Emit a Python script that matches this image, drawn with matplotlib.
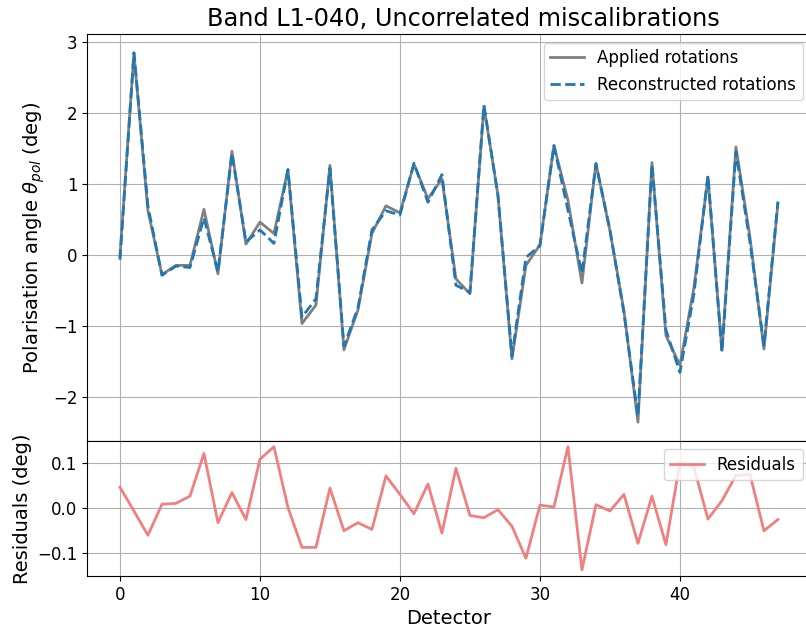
import matplotlib.pyplot as plt
import numpy as np

detectors = np.arange(48)

applied = [-0.02, 2.84, 0.62, -0.28, -0.15, -0.15, 0.64, -0.27, 1.46, 0.15,
           0.46, 0.30, 1.20, -0.97, -0.71, 1.26, -1.34, -0.78, 0.30, 0.69,
           0.59, 1.28, 0.79, 1.07, -0.34, -0.55, 2.09, 0.84, -1.47, -0.15,
           0.14, 1.54, 0.77, -0.40, 1.29, 0.34, -0.79, -2.36, 1.30, -1.14,
           -1.56, -0.46, 1.09, -1.35, 1.52, 0.25, -1.33, 0.72]

reconstructed = [-0.07, 2.85, 0.68, -0.29, -0.16, -0.18, 0.52, -0.24, 1.43, 0.18,
                 0.35, 0.16, 1.20, -0.88, -0.62, 1.22, -1.29, -0.75, 0.35, 0.62,
                 0.56, 1.29, 0.74, 1.13, -0.43, -0.53, 2.11, 0.84, -1.43, -0.04,
                 0.13, 1.54, 0.63, -0.26, 1.28, 0.35, -0.82, -2.28, 1.27, -1.06,
                 -1.66, -0.55, 1.12, -1.37, 1.45, 0.18, -1.28, 0.75]

residuals = [0.046, -0.007, -0.061, 0.008, 0.010, 0.026, 0.121, -0.033, 0.034, -0.026,
             0.108, 0.136, 0.001, -0.088, -0.088, 0.044, -0.051, -0.033, -0.048, 0.071,
             0.030, -0.013, 0.053, -0.056, 0.088, -0.017, -0.022, -0.004, -0.041, -0.112,
             0.006, 0.002, 0.136, -0.138, 0.007, -0.007, 0.030, -0.079, 0.026, -0.082,
             0.101, 0.090, -0.025, 0.016, 0.072, 0.075, -0.051, -0.026]

fig, (ax1, ax2) = plt.subplots(2, 1, sharex=True, figsize=(8.06, 6.33), dpi=100,
                               gridspec_kw={'height_ratios': [3, 1], 'hspace': 0})
# the original is cut off on the right, so the axes run slightly past the edge
fig.subplots_adjust(left=0.108, right=1.006, top=0.946, bottom=0.090)

ax1.plot(detectors, applied, color='gray', lw=2, label='Applied rotations')
ax1.plot(detectors, reconstructed, color='tab:blue', ls='--', lw=2, label='Reconstructed rotations')
ax1.set_ylabel(r'Polarisation angle $\theta_{pol}$ (deg)', fontsize=14)
ax1.set_title('Band L1-040, Uncorrelated miscalibrations', fontsize=17.3, x=0.52)
ax1.legend(loc='upper right', fontsize=12)
ax1.grid(True)
ax1.tick_params(labelsize=12)

ax2.plot(detectors, residuals, color='lightcoral', lw=2, label='Residuals')
ax2.set_ylabel('Residuals (deg)', fontsize=14)
ax2.set_xlabel('Detector', fontsize=14)
ax2.legend(loc='upper right', fontsize=12)
ax2.grid(True)
ax2.tick_params(labelsize=12)

fig.savefig('out.png')
